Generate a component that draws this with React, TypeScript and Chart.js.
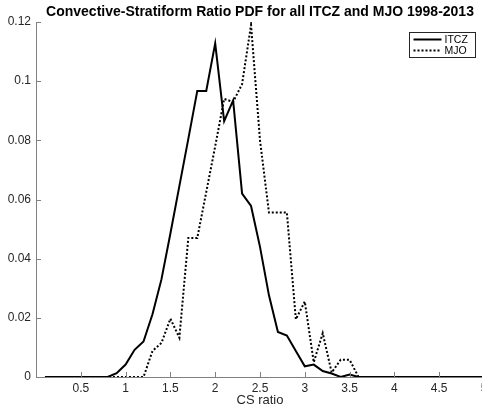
import React, { useEffect, useRef } from 'react';
import { Chart, registerables } from 'chart.js';

Chart.register(...registerables);

const titleText = 'Convective-Stratiform Ratio PDF for all ITCZ and MJO 1998-2013';
const xAxisTitle = 'CS ratio';
const seriesNames = ['ITCZ', 'MJO'];

const xValues = [
  0.1, 0.2, 0.3, 0.4, 0.5, 0.6, 0.7, 0.8, 0.9, 1.0,
  1.1, 1.2, 1.3, 1.4, 1.5, 1.6, 1.7, 1.8, 1.9, 2.0,
  2.1, 2.2, 2.3, 2.4, 2.5, 2.6, 2.7, 2.8, 2.9, 3.0,
  3.1, 3.2, 3.3, 3.4, 3.5, 3.6, 3.7, 3.8, 3.9, 4.0,
  4.1, 4.2, 4.3, 4.4, 4.5, 4.6, 4.7, 4.8, 4.9, 5.0,
];

const itczValues = [
  0, 0, 0, 0, 0, 0, 0, 0, 0.0013, 0.0042,
  0.0092, 0.012, 0.0212, 0.033, 0.0485, 0.0645, 0.0805, 0.0967, 0.0967, 0.1128,
  0.0865, 0.0935, 0.062, 0.0578, 0.044, 0.0276, 0.0152, 0.014, 0.0088, 0.0036,
  0.0042, 0.002, 0.0012, 0, 0.0008, 0, 0, 0, 0, 0,
  0, 0, 0, 0, 0, 0, 0, 0, 0, 0,
];

const mjoValues = [
  0, 0, 0, 0, 0, 0, 0, 0, 0, 0,
  0, 0, 0.0088, 0.0115, 0.0197, 0.0133, 0.047, 0.047, 0.0625, 0.078,
  0.094, 0.093, 0.099, 0.119, 0.08, 0.0556, 0.0556, 0.0556, 0.0195, 0.0255,
  0.005, 0.0148, 0.0015, 0.0058, 0.0058, 0, 0, 0, 0, 0,
  0, 0, 0, 0, 0, 0, 0, 0, 0, 0,
];

const xTickValues = [0.5, 1, 1.5, 2, 2.5, 3, 3.5, 4, 4.5, 5];
const xTickLabels = ['0.5', '1', '1.5', '2', '2.5', '3', '3.5', '4', '4.5', '5'];
const yTickValues = [0, 0.02, 0.04, 0.06, 0.08, 0.1, 0.12];
const yTickLabels = ['0', '0.02', '0.04', '0.06', '0.08', '0.1', '0.12'];

const FONT = '"Liberation Sans", Arial, Helvetica, sans-serif';
const AXIS_COLOR = '#808080';
const TEXT_COLOR = '#262626';

const decorPlugin = {
  id: 'decor',
  afterDraw(chart: any) {
    const { ctx, chartArea: a, scales } = chart;
    const x = scales.x;
    const y = scales.y;
    ctx.save();
    // inward ticks
    ctx.strokeStyle = AXIS_COLOR;
    ctx.lineWidth = 1;
    ctx.beginPath();
    xTickValues.forEach((v) => {
      const px = Math.round(x.getPixelForValue(v)) + 0.5;
      ctx.moveTo(px, a.bottom);
      ctx.lineTo(px, a.bottom - 5);
    });
    yTickValues.forEach((v) => {
      if (v === 0) return;
      const py = Math.round(y.getPixelForValue(v)) + 0.5;
      ctx.moveTo(a.left, py);
      ctx.lineTo(a.left + 5, py);
    });
    ctx.stroke();

    // title
    ctx.fillStyle = '#000';
    ctx.font = `bold 14px ${FONT}`;
    ctx.textAlign = 'center';
    ctx.textBaseline = 'middle';
    ctx.fillText(titleText, (a.left + a.right) / 2, 12);

    // legend
    const bx0 = 409.5, by0 = 32.5, bx1 = 475.5, by1 = 57.5;
    ctx.fillStyle = '#fff';
    ctx.fillRect(bx0, by0, bx1 - bx0, by1 - by0);
    ctx.strokeStyle = '#262626';
    ctx.lineWidth = 1;
    ctx.strokeRect(bx0, by0, bx1 - bx0, by1 - by0);
    const rows = [by0 + 7, by0 + 18];
    chart.data.datasets.forEach((ds: any, i: number) => {
      ctx.strokeStyle = ds.borderColor;
      ctx.lineWidth = ds.borderWidth;
      ctx.setLineDash(ds.borderDash || []);
      ctx.beginPath();
      ctx.moveTo(bx0 + 4, rows[i]);
      ctx.lineTo(bx0 + 32, rows[i]);
      ctx.stroke();
      ctx.setLineDash([]);
      ctx.fillStyle = '#000';
      ctx.font = `10.5px ${FONT}`;
      ctx.textAlign = 'left';
      ctx.textBaseline = 'middle';
      ctx.fillText(seriesNames[i], bx0 + 35, rows[i] + 0.5);
    });
    ctx.restore();
  },
};

export default function App() {
  const canvasRef = useRef<HTMLCanvasElement | null>(null);

  useEffect(() => {
    const canvas = canvasRef.current;
    if (!canvas) return;
    const chart = new Chart(canvas, {
      type: 'line',
      data: {
        datasets: [
          {
            label: seriesNames[0],
            data: xValues.map((xv, i) => ({ x: xv, y: itczValues[i] })),
            borderColor: '#000',
            borderWidth: 2,
            pointRadius: 0,
            tension: 0,
            fill: false,
          },
          {
            label: seriesNames[1],
            data: xValues.map((xv, i) => ({ x: xv, y: mjoValues[i] })),
            borderColor: '#000',
            borderWidth: 2,
            borderDash: [2, 2],
            pointRadius: 0,
            tension: 0,
            fill: false,
          },
        ],
      },
      options: {
        responsive: false,
        animation: false,
        devicePixelRatio: 1,
        layout: { padding: { top: 22, right: 36, bottom: 0, left: 0 } },
        plugins: {
          legend: { display: false },
          title: { display: false },
          tooltip: { enabled: false },
        },
        scales: {
          x: {
            type: 'linear',
            min: 0,
            max: 5,
            grid: { display: false, drawTicks: false },
            border: { display: true, color: AXIS_COLOR, width: 1 },
            afterBuildTicks: (scale: any) => {
              scale.ticks = xTickValues.map((v) => ({ value: v }));
            },
            afterFit: (scale: any) => {
              scale.height = 31;
            },
            ticks: {
              autoSkip: false,
              maxRotation: 0,
              padding: 4,
              color: TEXT_COLOR,
              font: { family: FONT, size: 12 },
              callback: (_v: any, i: number) => xTickLabels[i],
            },
            title: {
              display: true,
              text: xAxisTitle,
              color: TEXT_COLOR,
              font: { family: FONT, size: 13 },
              padding: { top: 0, bottom: 0 },
            },
          },
          y: {
            type: 'linear',
            min: 0,
            max: 0.12,
            grid: { display: false, drawTicks: false },
            border: { display: true, color: AXIS_COLOR, width: 1 },
            afterBuildTicks: (scale: any) => {
              scale.ticks = yTickValues.map((v) => ({ value: v }));
            },
            afterFit: (scale: any) => {
              scale.width = 36;
            },
            ticks: {
              autoSkip: false,
              padding: 5,
              color: TEXT_COLOR,
              font: { family: FONT, size: 12 },
              callback: (_v: any, i: number) => yTickLabels[i],
            },
          },
        },
      },
      plugins: [decorPlugin],
    } as any);
    return () => chart.destroy();
  }, []);

  return (
    <div
      style={{
        position: 'absolute',
        left: 0,
        top: 0,
        width: 482,
        height: 408,
        overflow: 'hidden',
        background: '#fff',
      }}
    >
      <canvas ref={canvasRef} width={520} height={408} style={{ width: 520, height: 408, display: 'block' }} />
    </div>
  );
}
